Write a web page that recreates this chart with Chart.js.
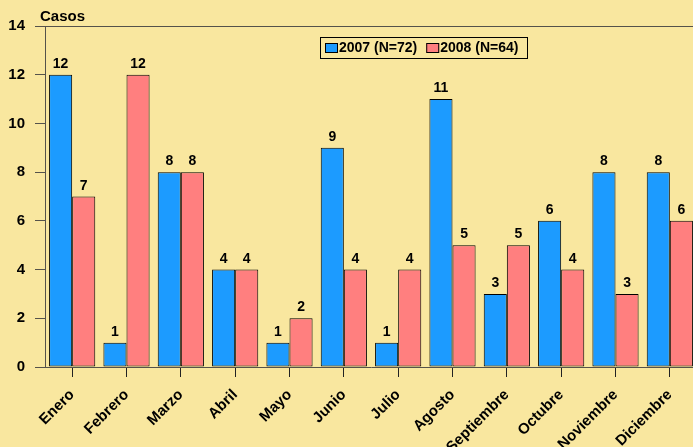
<!DOCTYPE html>
<html>
<head>
<meta charset="utf-8">
<script src="https://cdn.jsdelivr.net/npm/chart.js@4/dist/chart.umd.min.js"></script>
<style>
  html, body { margin: 0; padding: 0; overflow: hidden; background: #f9e79f; }
  canvas { display: block; }
</style>
</head>
<body>
<canvas id="casos" width="697" height="447"></canvas>
<script>
const meses = ["Enero", "Febrero", "Marzo", "Abril", "Mayo", "Junio", "Julio",
  "Agosto", "Septiembre", "Octubre", "Noviembre", "Diciembre"];
const casos2007 = [12, 1, 8, 4, 1, 9, 1, 11, 3, 6, 8, 8];
const casos2008 = [7, 12, 8, 4, 2, 4, 4, 5, 5, 4, 3, 6];
const yMax = 14;
const yStep = 2;

const axisColor = "#55524a";
const fontFam = "'Liberation Sans', Arial, sans-serif";

const extras = {
  id: "extras",
  afterDatasetsDraw(chart) {
    const ctx = chart.ctx;
    ctx.save();
    ctx.fillStyle = "#000";
    ctx.font = "bold 14px " + fontFam;
    ctx.textAlign = "center";
    ctx.textBaseline = "alphabetic";
    chart.data.datasets.forEach((ds, i) => {
      chart.getDatasetMeta(i).data.forEach((bar, j) => {
        ctx.fillText(ds.data[j], bar.x, bar.y - 7);
      });
    });
    ctx.restore();
  },
  afterDraw(chart) {
    const ctx = chart.ctx;
    const area = chart.chartArea;
    ctx.save();
    // top frame line
    ctx.strokeStyle = axisColor;
    ctx.lineWidth = 1;
    ctx.beginPath();
    ctx.moveTo(area.left, area.top + 0.5);
    ctx.lineTo(area.right, area.top + 0.5);
    ctx.stroke();

    // axis title
    ctx.fillStyle = "#000";
    ctx.font = "bold 15px " + fontFam;
    ctx.textAlign = "left";
    ctx.fillText("Casos", 40, 21);

    // legend
    const lx = 320, ly = 37, lw = 207, lh = 21;
    ctx.strokeStyle = "#000";
    ctx.strokeRect(lx + 0.5, ly + 0.5, lw, lh);
    ctx.font = "bold 14px " + fontFam;
    ctx.textBaseline = "middle";
    let x = lx + 5;
    chart.data.datasets.forEach((ds) => {
      ctx.fillStyle = ds.backgroundColor;
      ctx.fillRect(x, ly + 6, 13, 10);
      ctx.strokeRect(x + 0.5, ly + 6.5, 12, 9);
      ctx.fillStyle = "#000";
      ctx.fillText(ds.label, x + 14, ly + lh / 2 + 1);
      x += 14 + ctx.measureText(ds.label).width + 9;
    });
    ctx.restore();
  }
};

new Chart(document.getElementById("casos").getContext("2d"), {
  type: "bar",
  data: {
    labels: meses,
    datasets: [
      {
        label: "2007 (N=72)",
        data: casos2007,
        backgroundColor: "#1c9bff",
        borderColor: "#000",
        borderWidth: 1,
        borderSkipped: false
      },
      {
        label: "2008 (N=64)",
        data: casos2008,
        backgroundColor: "#ff7f7f",
        borderColor: "#000",
        borderWidth: 1,
        borderSkipped: false
      }
    ]
  },
  options: {
    responsive: false,
    animation: false,
    layout: { padding: { top: 26, left: 0, right: 0, bottom: 0 } },
    plugins: {
      legend: { display: false },
      tooltip: { enabled: false }
    },
    datasets: {
      bar: { categoryPercentage: 0.85, barPercentage: 1 }
    },
    scales: {
      x: {
        afterFit: (s) => { s.height = 80; },
        grid: {
          offset: false,
          drawOnChartArea: false,
          drawTicks: true,
          tickLength: 10,
          color: "#222"
        },
        border: { color: axisColor },
        ticks: {
          autoSkip: false,
          minRotation: 45,
          maxRotation: 45,
          padding: 9,
          color: "#000",
          font: { family: fontFam, size: 15, weight: "bold" }
        }
      },
      y: {
        min: 0,
        max: yMax,
        afterFit: (s) => { s.width = 45; },
        grid: {
          drawOnChartArea: false,
          drawTicks: true,
          tickLength: 10,
          color: axisColor
        },
        border: { color: axisColor },
        ticks: {
          stepSize: yStep,
          padding: 10,
          color: "#000",
          font: { family: fontFam, size: 15, weight: "bold" }
        }
      }
    }
  },
  plugins: [extras]
});
</script>
</body>
</html>
